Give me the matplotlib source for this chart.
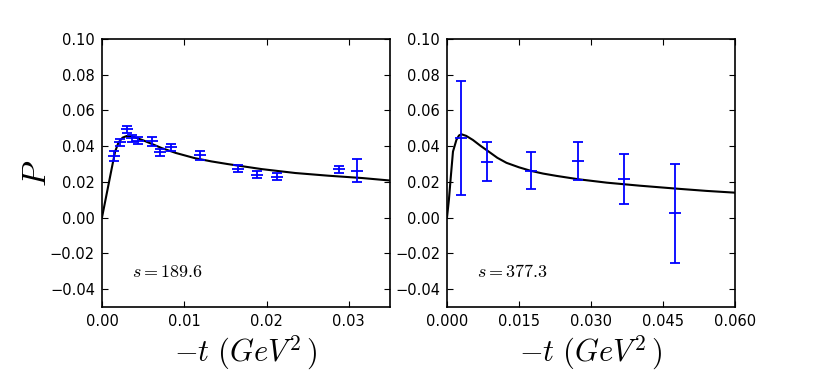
import matplotlib
matplotlib.use("Agg")
import matplotlib.pyplot as plt

plt.rcParams['mathtext.fontset'] = 'cm'
plt.rcParams['font.family'] = ['DejaVu Sans']

# Left panel (s = 189.6) data
t1 = [0.0015, 0.0022, 0.0030, 0.0037, 0.0044, 0.0061, 0.0071, 0.0084, 0.0119, 0.0165, 0.0188, 0.0213, 0.0288, 0.0310]
p1 = [0.0348, 0.0423, 0.0495, 0.0445, 0.0430, 0.0427, 0.0367, 0.0395, 0.0350, 0.0274, 0.0240, 0.0229, 0.0272, 0.0264]
e1 = [0.0028, 0.0020, 0.0020, 0.0020, 0.0020, 0.0025, 0.0020, 0.0020, 0.0025, 0.0020, 0.0020, 0.0020, 0.0020, 0.0063]

# Left panel model curve
ct1 = [0.0, 0.0004, 0.0008, 0.0012, 0.0016, 0.0020, 0.0025, 0.0030, 0.0035, 0.0040, 0.0050,
       0.0060, 0.0073, 0.0090, 0.0113, 0.0133, 0.0153, 0.0194, 0.0235, 0.0275, 0.0316, 0.0350]
cp1 = [0.0, 0.0093, 0.0186, 0.0279, 0.0370, 0.0420, 0.0448, 0.0457, 0.0456, 0.0450, 0.0433,
       0.0414, 0.0389, 0.0362, 0.0333, 0.0315, 0.0300, 0.0272, 0.0250, 0.0235, 0.0222, 0.0208]

# Right panel (s = 377.3) data
t2 = [0.0030, 0.0084, 0.0175, 0.0274, 0.0368, 0.0476]
p2 = [0.0447, 0.0313, 0.0263, 0.0319, 0.0216, 0.0025]
e2 = [0.0318, 0.0109, 0.0102, 0.0107, 0.0139, 0.0278]

# Right panel model curve
ct2 = [0.0, 0.0004, 0.0008, 0.00125, 0.00196, 0.0025, 0.0030, 0.0040, 0.0054, 0.0070, 0.0089,
       0.0105, 0.0124, 0.0150, 0.0175, 0.0200, 0.0228, 0.0274, 0.0333, 0.0402, 0.0476, 0.0540, 0.0600]
cp2 = [0.0, 0.0100, 0.0230, 0.0370, 0.0435, 0.0460, 0.0467, 0.0458, 0.0435, 0.0402, 0.0366,
       0.0335, 0.0307, 0.0282, 0.0262, 0.0247, 0.0234, 0.0215, 0.0196, 0.0179, 0.0163, 0.0150, 0.0140]

fig = plt.figure(figsize=(8.17, 3.85), dpi=100)
ax1 = fig.add_axes([0.1248, 0.2026, 0.3525, 0.696])
ax2 = fig.add_axes([0.5471, 0.2026, 0.3525, 0.696])

panels = [
    (ax1, t1, p1, e1, ct1, cp1, r'$s=189.6$', 0.035, [0.00, 0.01, 0.02, 0.03], ['0.00', '0.01', '0.02', '0.03']),
    (ax2, t2, p2, e2, ct2, cp2, r'$s=377.3$', 0.060, [0.0, 0.015, 0.030, 0.045, 0.060], ['0.000', '0.015', '0.030', '0.045', '0.060']),
]

for ax, t, p, e, ct, cp, lab, xmax, xt, xtl in panels:
    ax.plot(ct, cp, color='black', lw=1.5)
    ax.errorbar(t, p, yerr=e, fmt='_', color='blue', ecolor='blue', markersize=8,
                capsize=3.5, elinewidth=1.3, capthick=1.3, mew=1.3)
    ax.set_xlim(0, xmax)
    ax.set_ylim(-0.05, 0.10)
    ax.set_xticks(xt)
    ax.set_xticklabels(xtl)
    ax.set_yticks([-0.04, -0.02, 0.0, 0.02, 0.04, 0.06, 0.08, 0.10])
    ax.set_yticklabels(['\u22120.04', '\u22120.02', '0.00', '0.02', '0.04', '0.06', '0.08', '0.10'])
    ax.tick_params(direction='in', top=True, right=True, labelsize=10.5, length=4, width=0.8, pad=5)
    for sp in ax.spines.values():
        sp.set_linewidth(1.2)
    ax.text(0.104, 0.13, lab, transform=ax.transAxes, fontsize=13, va='center', ha='left')
    ax.set_xlabel(r'$-t\ (GeV^2\,)$', fontsize=22, labelpad=3)

ax1.set_ylabel(r'$P$', fontsize=24, labelpad=-2)

fig.savefig('out.png', dpi=100)
